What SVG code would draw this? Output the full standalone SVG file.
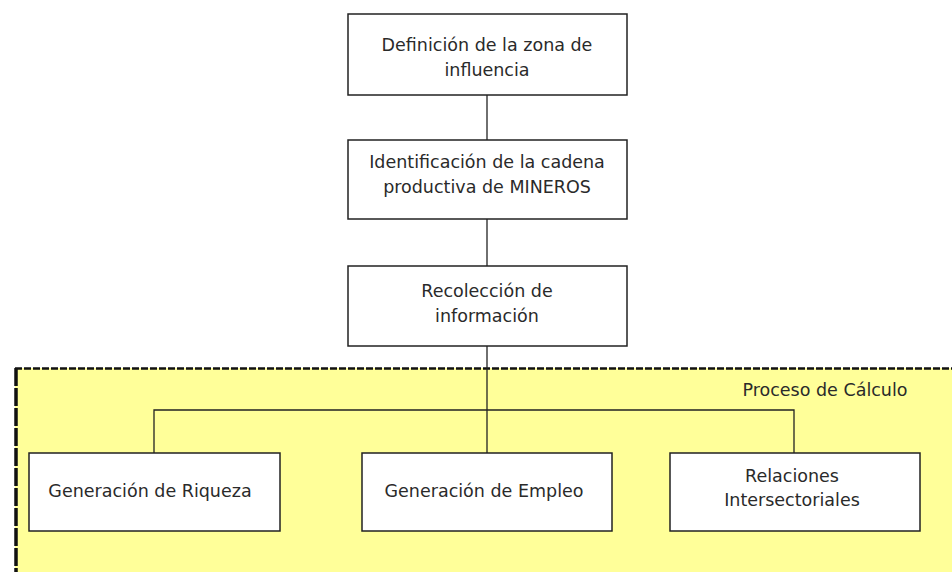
<svg xmlns="http://www.w3.org/2000/svg" width="952" height="572" viewBox="0 0 952 572">
<style>
.box{fill:#fff;stroke:#222;stroke-width:1.5}
.t{font-family:"DejaVu Sans",Verdana,sans-serif;font-size:17.5px;fill:#2a2a2a;text-anchor:middle}
.c{stroke:#222;stroke-width:1.3;fill:none}
</style>
<rect width="952" height="572" fill="#fff"/>
<g id="area">
<rect x="15" y="368" width="937" height="204" fill="#ffff99"/>
<line x1="15" y1="368.5" x2="952" y2="368.5" stroke="#111" stroke-width="2.5" stroke-dasharray="7,2"/>
<line x1="16" y1="368" x2="16" y2="572" stroke="#111" stroke-width="3.5" stroke-dasharray="18,2"/>
<text class="t" x="825" y="396">Proceso de Cálculo</text>
</g>
<g id="connectors">
<line class="c" x1="487" y1="95" x2="487" y2="140"/>
<line class="c" x1="487" y1="219" x2="487" y2="266"/>
<line class="c" x1="487" y1="346" x2="487" y2="453"/>
<polyline class="c" points="154,453 154,410 794,410 794,453"/>
</g>
<g id="n1"><rect class="box" x="348" y="14" width="279" height="81"/>
<text class="t" x="487" y="51">Definición de la zona de</text><text class="t" x="487" y="76">influencia</text></g>
<g id="n2"><rect class="box" x="348" y="140" width="279" height="79"/>
<text class="t" x="487" y="168">Identificación de la cadena</text><text class="t" x="487" y="193">productiva de MINEROS</text></g>
<g id="n3"><rect class="box" x="348" y="266" width="279" height="80"/>
<text class="t" x="487" y="297">Recolección de</text><text class="t" x="487" y="322">información</text></g>
<g id="n4"><rect class="box" x="29" y="453" width="251" height="78"/>
<text class="t" x="150" y="497">Generación de Riqueza</text></g>
<g id="n5"><rect class="box" x="362" y="453" width="250" height="78"/>
<text class="t" x="484" y="497">Generación de Empleo</text></g>
<g id="n6"><rect class="box" x="670" y="453" width="250" height="78"/>
<text class="t" x="792" y="482">Relaciones</text><text class="t" x="792" y="506">Intersectoriales</text></g>
</svg>
